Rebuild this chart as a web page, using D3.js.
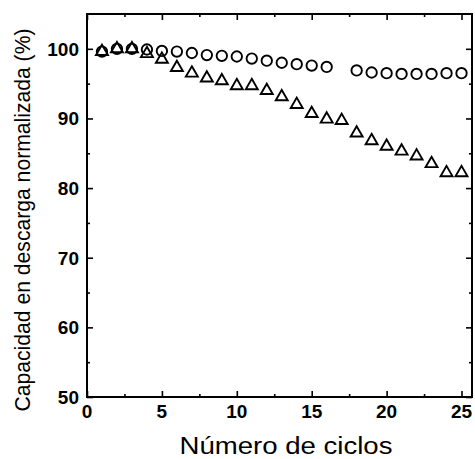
<!DOCTYPE html>
<html>
<head>
<meta charset="utf-8">
<script src="https://cdn.jsdelivr.net/npm/d3@7"></script>
<style>
  html, body { margin: 0; padding: 0; background: #fff; }
  svg { display: block; }
  text { font-family: "Liberation Sans", Arial, Helvetica, sans-serif; fill: #000; }
</style>
</head>
<body>
<svg id="chart" width="475" height="459"></svg>
<script>
// Cycle numbers and normalized discharge capacity (%) for both cells
const cyclesCircle = [1,2,3,4,5,6,7,8,9,10,11,12,13,14,15,16,18,19,20,21,22,23,24,25];
const capacityCircle = [99.6,100.0,100.0,99.9,99.7,99.6,99.4,99.1,99.0,98.9,98.6,98.3,98.0,97.8,97.6,97.4,96.9,96.6,96.5,96.4,96.4,96.4,96.5,96.5];

const cyclesTriangle = [1,2,3,4,5,6,7,8,9,10,11,12,13,14,15,16,17,18,19,20,21,22,23,24,25];
const capacityTriangle = [99.6,100.0,100.0,99.3,98.5,97.3,96.5,95.8,95.4,94.7,94.7,94.0,93.1,92.0,90.7,89.9,89.7,87.9,86.8,86.0,85.3,84.6,83.5,82.2,82.2];

const xMajorTicks = [0,5,10,15,20,25];
const xMinorTicks = [2.5,7.5,12.5,17.5,22.5];
const yMajorTicks = [50,60,70,80,90,100];
const yMinorTicks = [55,65,75,85,95];

const xTitle = "Número de ciclos";
const yTitle = "Capacidad en descarga normalizada (%)";

const svg = d3.select("#chart");
const plotLeft = 87, plotRight = 472, plotTop = 14, plotBottom = 397;

const x = d3.scaleLinear().domain([0, 25.7]).range([plotLeft, plotRight]);
const y = d3.scaleLinear().domain([50, 105]).range([plotBottom, plotTop]);

// Frame
svg.append("rect")
  .attr("x", plotLeft).attr("y", plotTop)
  .attr("width", plotRight - plotLeft).attr("height", plotBottom - plotTop)
  .attr("fill", "none").attr("stroke", "#000").attr("stroke-width", 2);

// Inward ticks on all four sides
function tickGroup(tx, ty, axisGen) {
  const g = svg.append("g").attr("transform", `translate(${tx},${ty})`);
  g.call(axisGen);
  g.select(".domain").remove();
  g.selectAll("line").attr("stroke-width", 1.6);
}

tickGroup(0, plotBottom, d3.axisTop(x).tickValues(xMajorTicks).tickSize(6).tickFormat(""));
tickGroup(0, plotBottom, d3.axisTop(x).tickValues(xMinorTicks).tickSize(3).tickFormat(""));
tickGroup(0, plotTop, d3.axisBottom(x).tickValues(xMajorTicks).tickSize(6).tickFormat(""));
tickGroup(0, plotTop, d3.axisBottom(x).tickValues(xMinorTicks).tickSize(3).tickFormat(""));
tickGroup(plotLeft, 0, d3.axisRight(y).tickValues(yMajorTicks).tickSize(6).tickFormat(""));
tickGroup(plotLeft, 0, d3.axisRight(y).tickValues(yMinorTicks).tickSize(3).tickFormat(""));
tickGroup(plotRight, 0, d3.axisLeft(y).tickValues(yMajorTicks).tickSize(6).tickFormat(""));
tickGroup(plotRight, 0, d3.axisLeft(y).tickValues(yMinorTicks).tickSize(3).tickFormat(""));

// Tick labels
svg.append("g").selectAll("text").data(xMajorTicks).join("text")
  .attr("x", d => x(d)).attr("y", 418)
  .attr("text-anchor", "middle")
  .attr("font-size", 19).attr("font-weight", "bold")
  .text(d => d);

svg.append("g").selectAll("text").data(yMajorTicks).join("text")
  .attr("x", 79).attr("y", d => y(d)).attr("dy", "0.36em")
  .attr("text-anchor", "end")
  .attr("font-size", 19).attr("font-weight", "bold")
  .text(d => d);

// Axis titles
svg.append("text")
  .attr("x", 286).attr("y", 454)
  .attr("text-anchor", "middle")
  .attr("font-size", 23)
  .attr("textLength", 213).attr("lengthAdjust", "spacingAndGlyphs")
  .text(xTitle);

svg.append("text")
  .attr("transform", "translate(30,220) rotate(-90)")
  .attr("text-anchor", "middle")
  .attr("font-size", 22)
  .attr("textLength", 383).attr("lengthAdjust", "spacingAndGlyphs")
  .text(yTitle);

// Markers
svg.append("g").selectAll("circle")
  .data(cyclesCircle.map((c, i) => [c, capacityCircle[i]]))
  .join("circle")
  .attr("cx", d => x(d[0])).attr("cy", d => y(d[1]))
  .attr("r", 5.2)
  .attr("fill", "none").attr("stroke", "#000").attr("stroke-width", 1.9);

const tri = d3.symbol().type(d3.symbolTriangle).size(62);
svg.append("g").selectAll("path")
  .data(cyclesTriangle.map((c, i) => [c, capacityTriangle[i]]))
  .join("path")
  .attr("d", tri)
  .attr("transform", d => `translate(${x(d[0])},${y(d[1])})`)
  .attr("fill", "none").attr("stroke", "#000").attr("stroke-width", 1.9);
</script>
</body>
</html>
